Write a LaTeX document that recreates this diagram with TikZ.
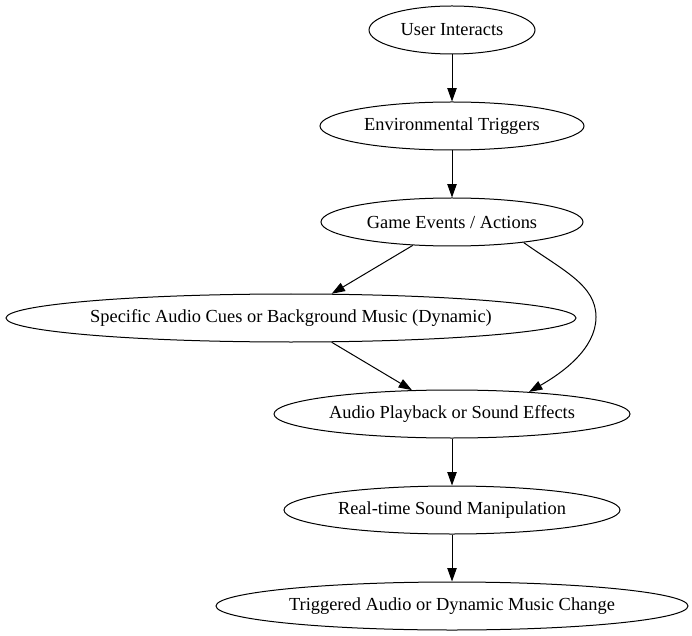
\documentclass[tikz,border=0pt]{standalone}
\usepackage{fontspec}
\setmainfont{Liberation Serif}
\usetikzlibrary{shapes.geometric,arrows.meta}
\tikzset{
  stage/.style={draw, ellipse, line width=1pt, inner sep=0pt, minimum height=48pt,
    font=\fontsize{18.4}{22}\selectfont},
  flow/.style={draw, line width=1pt, -{Triangle[length=13.3pt,width=9.3pt]}}
}
\begin{document}
\begin{tikzpicture}[x=1pt,y=1pt]
\useasboundingbox (0,0) rectangle (692,635);
\node[stage, minimum width=166pt] (u) at (452,605) {User Interacts};
\node[stage, minimum width=264pt] (e) at (452,509) {Environmental Triggers};
\node[stage, minimum width=262pt] (g) at (452,413) {Game Events / Actions};
\node[stage, minimum width=570pt] (s) at (291,317) {Specific Audio Cues or Background Music (Dynamic)};
\node[stage, minimum width=356pt] (a) at (452,221) {Audio Playback or Sound Effects};
\node[stage, minimum width=336pt] (r) at (452,125) {Real-time Sound Manipulation};
\node[stage, minimum width=472pt] (t) at (452,29) {Triggered Audio or Dynamic Music Change};
\coordinate (bend) at (596,318);
\draw[flow] (u) -- (e);
\draw[flow] (e) -- (g);
\draw[flow] (g) -- (s);
\draw[flow] (s) -- (a);
\draw[flow] (g.-16) .. controls (563,364.5) and (596,350) .. (bend) .. controls (596,286) and (562,262) .. (a.16);
\draw[flow] (a) -- (r);
\draw[flow] (r) -- (t);
\end{tikzpicture}
\end{document}
